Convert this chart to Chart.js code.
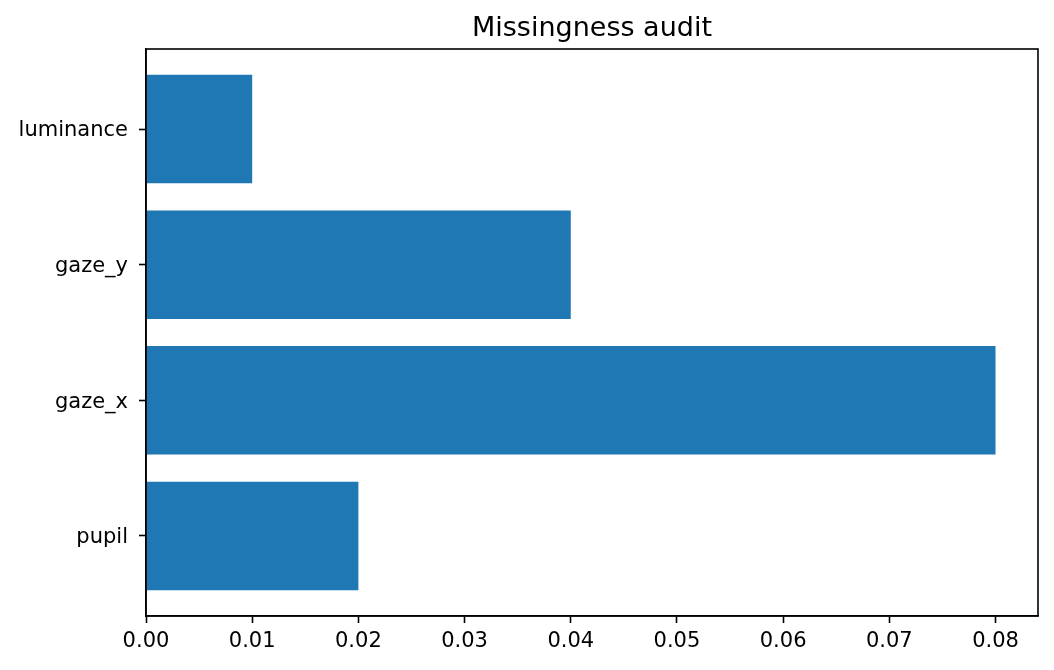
<!DOCTYPE html>
<html>
<head>
<meta charset="utf-8">
<script src="https://cdn.jsdelivr.net/npm/chart.js@4"></script>
<style>
html, body { margin: 0; padding: 0; background: #fff; }
#wrap { width: 1054px; height: 670px; }
</style>
</head>
<body>
<div id="wrap"><canvas id="chart"></canvas></div>
<script>
// categories, bottom to top
const categories = ['pupil', 'gaze_x', 'gaze_y', 'luminance'];
// share of missing samples
const missingRate = [0.02, 0.08, 0.04, 0.01];
// x tick labels
const xTicks = [0, 0.01, 0.02, 0.03, 0.04, 0.05, 0.06, 0.07, 0.08];
const chartTitle = 'Missingness audit';

Chart.defaults.font.family = "'DejaVu Sans', sans-serif";
Chart.defaults.font.size = 21;
Chart.defaults.color = '#000';

// full box around the plot + title centred on the plot area
const frame = {
	id: 'frame',
	afterDraw(chart){
		const a = chart.chartArea, ctx = chart.ctx;
		ctx.save();
		ctx.strokeStyle = '#000';
		ctx.lineWidth = 1.6;
		ctx.strokeRect(a.left, a.top, a.right - a.left, a.bottom - a.top);
		ctx.font = "27px 'DejaVu Sans', sans-serif";
		ctx.fillStyle = '#000';
		ctx.textAlign = 'center';
		ctx.textBaseline = 'alphabetic';
		ctx.fillText(chartTitle, (a.left + a.right) / 2, 36);
		ctx.restore();
	}
};

new Chart(document.getElementById('chart'), {
	type: 'bar',
	data: {
		datasets: [{
			data: categories.map((c, i) => ({x: missingRate[i], y: i})),
			backgroundColor: '#1f77b4',
			borderWidth: 0,
			barPercentage: 0.8,
			categoryPercentage: 1
		}]
	},
	options: {
		indexAxis: 'y',
		responsive: true,
		maintainAspectRatio: false,
		animation: false,
		layout: { padding: {top: 49, right: 16, left: 0, bottom: 0} },
		plugins: {
			legend: { display: false },
			tooltip: { enabled: false }
		},
		scales: {
			x: {
				type: 'linear',
				min: 0,
				max: 0.084,
				afterBuildTicks: s => { s.ticks = xTicks.map(v => ({value: v})); },
				afterFit: s => { s.height = 54; },
				ticks: {
					padding: 6,
					maxRotation: 0,
					callback: v => v.toFixed(2)
				},
				grid: { display: true, drawOnChartArea: false, drawTicks: true, tickLength: 7, tickWidth: 1.6, tickColor: '#000' },
				border: { display: true, color: '#000', width: 1.6 }
			},
			y: {
				type: 'linear',
				min: -0.59,
				max: 3.59,
				offset: false,
				afterBuildTicks: s => { s.ticks = categories.map((c, i) => ({value: i})); },
				afterFit: s => { s.width = 146; },
				ticks: {
					padding: 11,
					labelOffset: 2,
					callback: v => categories[v]
				},
				grid: { display: true, offset: false, drawOnChartArea: false, drawTicks: true, tickLength: 7, tickWidth: 1.6, tickColor: '#000' },
				border: { display: true, color: '#000', width: 1.6 }
			}
		}
	},
	plugins: [frame]
});
</script>
</body>
</html>
